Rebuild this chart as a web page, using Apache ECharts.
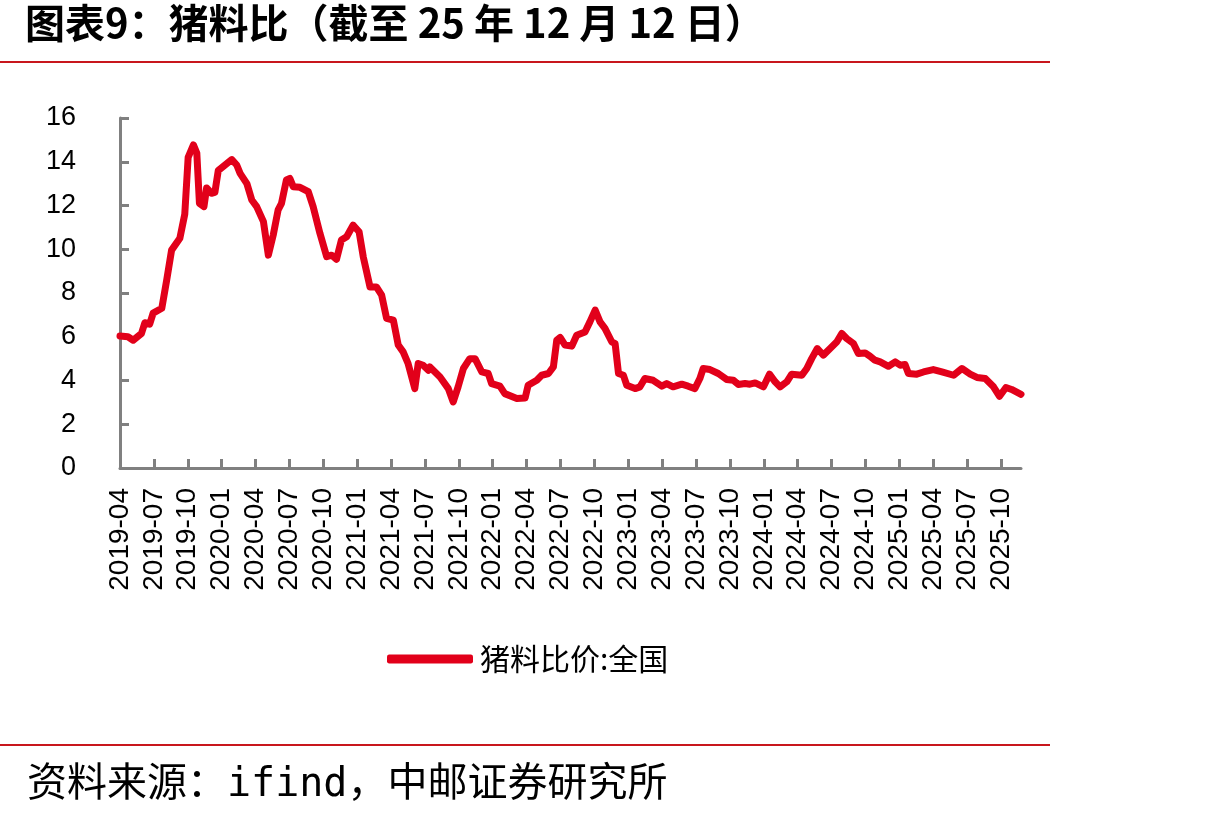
<!DOCTYPE html>
<html>
<head>
<meta charset="utf-8">
<title>猪料比</title>
<script src="https://cdn.jsdelivr.net/npm/echarts@6/dist/echarts.min.js"></script>
<style>
    html, body { margin: 0; padding: 0; background: #fff; }
    #chart { width: 1229px; height: 822px; }
</style>
</head>
<body>
<div id="chart"></div>
<script>
// 猪料比价:全国（周度，读图估算）
const titleText = '图表9：猪料比（截至 25 年 12 月 12 日）';
const sourceText = '资料来源：ifind，中邮证券研究所';
const seriesName = '猪料比价:全国';

const dates = [
    '2019-04-01', '2019-04-22', '2019-05-06', '2019-05-28', '2019-06-07', '2019-06-20', '2019-06-29',
    '2019-07-22', '2019-08-05', '2019-08-18', '2019-09-10', '2019-09-23', '2019-10-02', '2019-10-16',
    '2019-10-25', '2019-11-02', '2019-11-14', '2019-11-21', '2019-12-04', '2019-12-13', '2019-12-22',
    '2020-01-10', '2020-01-28', '2020-02-11', '2020-02-20', '2020-03-08', '2020-03-21', '2020-04-04',
    '2020-04-22', '2020-05-05', '2020-05-18', '2020-06-01', '2020-06-10', '2020-06-23', '2020-07-02',
    '2020-07-11', '2020-07-29', '2020-08-21', '2020-09-04', '2020-09-22', '2020-10-10', '2020-10-23',
    '2020-11-06', '2020-11-19', '2020-12-03', '2020-12-20', '2021-01-06', '2021-01-17', '2021-02-05',
    '2021-02-22', '2021-03-06', '2021-03-19', '2021-04-07', '2021-04-20', '2021-05-03', '2021-05-16',
    '2021-06-04', '2021-06-13', '2021-06-26', '2021-07-10', '2021-07-14', '2021-08-11', '2021-09-03',
    '2021-09-16', '2021-09-29', '2021-10-13', '2021-10-30', '2021-11-14', '2021-12-02', '2021-12-19',
    '2021-12-28', '2022-01-20', '2022-02-03', '2022-03-05', '2022-03-27', '2022-04-05', '2022-04-28',
    '2022-05-11', '2022-05-29', '2022-06-12', '2022-06-21', '2022-06-30', '2022-07-13', '2022-08-01',
    '2022-08-14', '2022-09-06', '2022-09-19', '2022-10-03', '2022-10-16', '2022-10-29', '2022-11-17',
    '2022-11-26', '2022-12-05', '2022-12-18', '2022-12-27', '2023-01-19', '2023-02-02', '2023-02-15',
    '2023-03-07', '2023-03-30', '2023-04-13', '2023-04-30', '2023-05-23', '2023-06-10', '2023-06-28',
    '2023-07-11', '2023-07-20', '2023-08-08', '2023-08-30', '2023-09-22', '2023-10-10', '2023-10-23',
    '2023-11-11', '2023-11-24', '2023-12-08', '2023-12-30', '2024-01-16', '2024-02-01', '2024-02-14',
    '2024-03-02', '2024-03-15', '2024-04-12', '2024-04-25', '2024-05-08', '2024-05-23', '2024-06-09',
    '2024-06-27', '2024-07-15', '2024-07-28', '2024-08-11', '2024-08-29', '2024-09-12', '2024-09-30',
    '2024-10-13', '2024-10-26', '2024-11-10', '2024-12-02', '2024-12-20', '2025-01-03', '2025-01-16',
    '2025-01-25', '2025-02-17', '2025-03-05', '2025-04-01', '2025-04-24', '2025-05-25', '2025-06-17',
    '2025-07-09', '2025-07-27', '2025-08-19', '2025-09-11', '2025-09-27', '2025-10-14', '2025-10-29',
    '2025-11-24'
];

const values = [
    6.03, 6.00, 5.84, 6.15, 6.64, 6.58, 7.08,
    7.30, 8.59, 9.96, 10.50, 11.60, 14.20, 14.77,
    14.40, 12.10, 11.95, 12.80, 12.56, 12.60, 13.60,
    13.85, 14.10, 13.85, 13.47, 13.00, 12.25, 11.95,
    11.26, 9.73, 10.65, 11.80, 12.10, 13.17, 13.24,
    12.86, 12.83, 12.63, 11.95, 10.73, 9.66, 9.73,
    9.54, 10.42, 10.57, 11.10, 10.80, 9.66, 8.28,
    8.28, 7.90, 6.84, 6.76, 5.62, 5.31, 4.78,
    3.63, 4.78, 4.70, 4.47, 4.62, 4.16, 3.63,
    3.02, 3.71, 4.55, 5.00, 5.00, 4.39, 4.32,
    3.86, 3.74, 3.40, 3.18, 3.20, 3.78, 4.01,
    4.24, 4.32, 4.62, 5.84, 5.97, 5.62, 5.57,
    6.07, 6.22, 6.68, 7.22, 6.68, 6.38, 5.77,
    5.69, 4.32, 4.24, 3.78, 3.63, 3.71, 4.09,
    4.01, 3.74, 3.86, 3.71, 3.83, 3.74, 3.63,
    4.09, 4.55, 4.50, 4.32, 4.05, 4.01, 3.82,
    3.86, 3.83, 3.89, 3.71, 4.29, 3.94, 3.71,
    3.94, 4.29, 4.24, 4.55, 5.00, 5.46, 5.16,
    5.46, 5.77, 6.15, 5.92, 5.69, 5.23, 5.26,
    5.11, 4.93, 4.85, 4.65, 4.85, 4.70, 4.73,
    4.32, 4.29, 4.39, 4.50, 4.39, 4.24, 4.55,
    4.29, 4.14, 4.09, 3.71, 3.28, 3.68, 3.59,
    3.37
];

// x 轴按月计数，每季度一个刻度
const axisStart = '2019-04-01';
const axisEnd = '2025-11-24';
const yTicks = [0, 16, 2];   // min, max, interval

function monthIndex(s) {
    const [y, m, d] = s.split('-').map(Number);
    return y * 12 + (m - 1) + (d - 1) / 30;
}

function monthLabel(v) {
    const y = Math.floor(v / 12);
    const m = Math.round(v - y * 12) + 1;
    return `${y}-${String(m).padStart(2, '0')}`;
}

const xMin = monthIndex(axisStart);
const xMax = monthIndex(axisEnd);
const RED = '#E2001A';
const LINE_RED = '#C8161D';

const chart = echarts.init(document.getElementById('chart'));
chart.setOption({
    animation: false,
    backgroundColor: '#fff',
    grid: { left: 120, right: 208, top: 118, bottom: 354 },
    legend: {
        data: [{ name: seriesName, icon: 'roundRect' }],
        left: 382,
        top: 639,
        itemWidth: 86,
        itemHeight: 9,
        itemGap: 10,
        itemStyle: { color: RED },
        textStyle: { fontFamily: 'Noto Sans CJK SC', fontSize: 30, color: '#000', padding: [0, 0, 0, 2] }
    },
    xAxis: {
        type: 'value',
        min: xMin,
        max: xMax,
        interval: 3,
        axisLine: { lineStyle: { color: '#808080', width: 3 } },
        axisTick: { inside: true, length: 9, lineStyle: { color: '#808080', width: 3 } },
        splitLine: { show: false },
        axisLabel: {
            rotate: 90,
            margin: 20,
            showMaxLabel: false,
            fontFamily: 'Liberation Sans',
            fontSize: 28,
            color: '#000',
            formatter: v => ((v - xMin) % 3 === 0 ? monthLabel(v) : '')
        }
    },
    yAxis: {
        type: 'value',
        min: yTicks[0],
        max: yTicks[1],
        interval: yTicks[2],
        axisLine: { show: true, lineStyle: { color: '#808080', width: 3 } },
        axisTick: { show: true, inside: true, length: 9, lineStyle: { color: '#808080', width: 3 } },
        splitLine: { show: false },
        axisLabel: { margin: 44, fontFamily: 'Liberation Sans', fontSize: 27, color: '#000' }
    },
    series: [{
        name: seriesName,
        type: 'line',
        data: dates.map((d, i) => [monthIndex(d), values[i]]),
        symbol: 'none',
        lineStyle: { color: RED, width: 7, cap: 'round', join: 'round' },
        itemStyle: { color: RED }
    }],
    graphic: [
        {
            type: 'text', left: 25, top: 3,
            style: { text: titleText, fontFamily: 'Noto Sans CJK SC', fontWeight: 'bold', fontSize: 40, fill: '#000' }
        },
        { type: 'rect', shape: { x: 0, y: 61, width: 1050, height: 2 }, style: { fill: LINE_RED } },
        { type: 'rect', shape: { x: 0, y: 744, width: 1050, height: 2 }, style: { fill: LINE_RED } },
        {
            type: 'text', left: 27, top: 766,
            style: { text: sourceText, fontFamily: 'DejaVu Sans Mono, Noto Sans CJK SC', fontSize: 40, fill: '#000' }
        }
    ]
});
</script>
</body>
</html>
